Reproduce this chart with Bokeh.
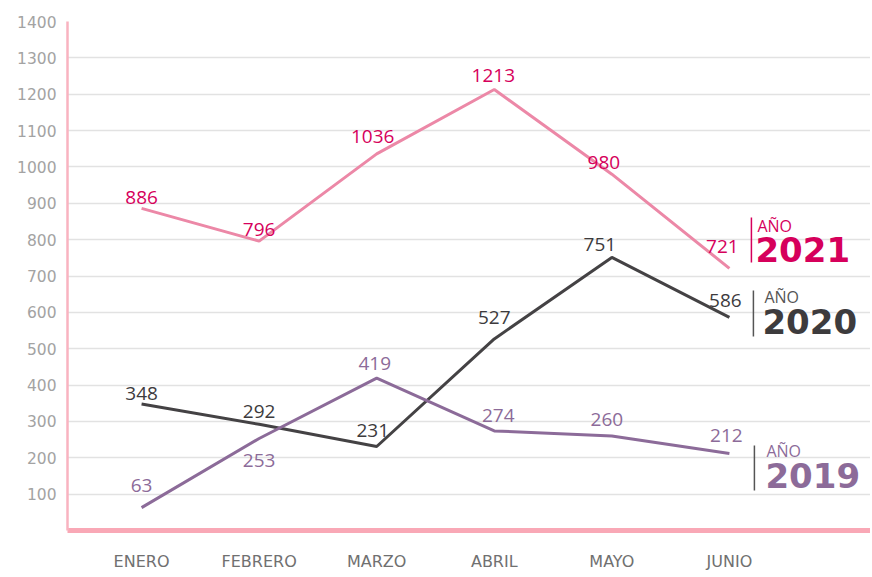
from bokeh.plotting import figure
from bokeh.models import Range1d, FixedTicker, ColumnDataSource, LabelSet, Label
from bokeh.core.properties import value
from bokeh.embed import file_html
from bokeh.resources import INLINE

months = ["ENERO", "FEBRERO", "MARZO", "ABRIL", "MAYO", "JUNIO"]
y2021 = [886, 796, 1036, 1213, 980, 721]
y2020 = [348, 292, 231, 527, 751, 586]
y2019 = [63, 253, 419, 274, 260, 212]
y_ticks = list(range(100, 1500, 100))

# label placement (screen px offsets: dx, dy up)
off2021 = [(0, 11), (0, 12), (-4, 17), (-1, 14), (-8, 12), (-7, 22)]
off2020 = [(0, 10), (0, 13), (-4, 16), (0, 21), (-12, 13), (-4, 17)]
off2019 = [(0, 22), (0, -22), (-2, 15), (4, 15), (-5, 16), (-3, 18)]

C21_LINE, C21_TXT = "#ec88a7", "#d6005b"
C20_LINE, C20_TXT = "#444244", "#3d3b3d"
C19_LINE, C19_TXT = "#8c6b99", "#8c6b99"
FONT = "Open Sans"
AXFONT = "DejaVu Sans"

p = figure(width=870, height=577, output_backend="svg", toolbar_location=None,
           x_range=Range1d(-0.63, 6.2), y_range=Range1d(0, 1400),
           min_border_left=67, min_border_top=21, min_border_right=0, min_border_bottom=47)
p.outline_line_color = None
p.background_fill_color = "white"
p.border_fill_color = "white"

p.xgrid.grid_line_color = None
p.ygrid.grid_line_color = "#e2e2e2"
p.ygrid.grid_line_width = 1.5
p.yaxis.ticker = FixedTicker(ticks=y_ticks)
p.yaxis.axis_line_color = "#f9b3c0"
p.yaxis.axis_line_width = 2.5
p.yaxis.major_tick_line_color = None
p.yaxis.minor_tick_line_color = None
p.yaxis.major_label_text_color = "#a3a3a3"
p.yaxis.major_label_text_font = AXFONT
p.yaxis.major_label_text_font_size = "15.5px"
p.yaxis.major_label_standoff = 5

p.xaxis.ticker = FixedTicker(ticks=list(range(len(months))))
p.xaxis.major_label_overrides = {i: m for i, m in enumerate(months)}
p.xaxis.axis_line_color = "#f9a8b6"
p.xaxis.axis_line_width = 5
p.xaxis.major_tick_line_color = None
p.xaxis.minor_tick_line_color = None
p.xaxis.major_label_text_color = "#707070"
p.xaxis.major_label_text_font = AXFONT
p.xaxis.major_label_text_font_size = "16px"
p.xaxis.major_label_standoff = 15

xs = list(range(len(months)))
for vals, offs, lc, tc in [(y2021, off2021, C21_LINE, C21_TXT),
                           (y2020, off2020, C20_LINE, C20_TXT),
                           (y2019, off2019, C19_LINE, C19_TXT)]:
    src = ColumnDataSource(dict(x=xs, y=vals, t=[str(v) for v in vals],
                                dx=[o[0] for o in offs], dy=[o[1] for o in offs]))
    p.line("x", "y", source=src, line_color=lc, line_width=3)
    p.add_layout(LabelSet(x="x", y="y", text="t", source=src, x_offset="dx", y_offset="dy",
                          text_align="center", text_baseline="middle",
                          text_color=tc, text_font=value(FONT), text_font_size="19px"))

# legend annotations next to JUNIO (pixel helpers for layout only)
PX_PER_X = 117.6
PX_PER_Y = 509 / 1400
def lx(px):
    return 5 + (px - 729) / PX_PER_X
def ly(py):
    return (530 - py) / PX_PER_Y

legend = [
    ("2021", C21_TXT, C21_TXT, C21_TXT, 751, 217, 262, 757, 225, 755, 249),
    ("2020", C20_TXT, "#555555", "#555555", 753, 290, 336, 764, 296, 762, 321),
    ("2019", C19_TXT, C19_TXT, "#555555", 754, 445, 490, 766, 450, 765, 475),
]
for year, bigc, smallc, barc, bx, by0, by1, ax, ay, yx, yy in legend:
    p.segment(x0=[lx(bx)], y0=[ly(by0)], x1=[lx(bx)], y1=[ly(by1)], line_color=barc, line_width=1.5)
    p.add_layout(Label(x=lx(ax), y=ly(ay), text="AÑO", text_color=smallc, text_font=FONT,
                       text_font_size="16px", text_baseline="middle", text_align="left"))
    p.add_layout(Label(x=lx(yx), y=ly(yy), text=year, text_color=bigc, text_font="DejaVu Sans",
                       text_font_style="bold", text_font_size="34px", text_baseline="middle",
                       text_align="left"))

open("out.html", "w").write(file_html(p, INLINE))
